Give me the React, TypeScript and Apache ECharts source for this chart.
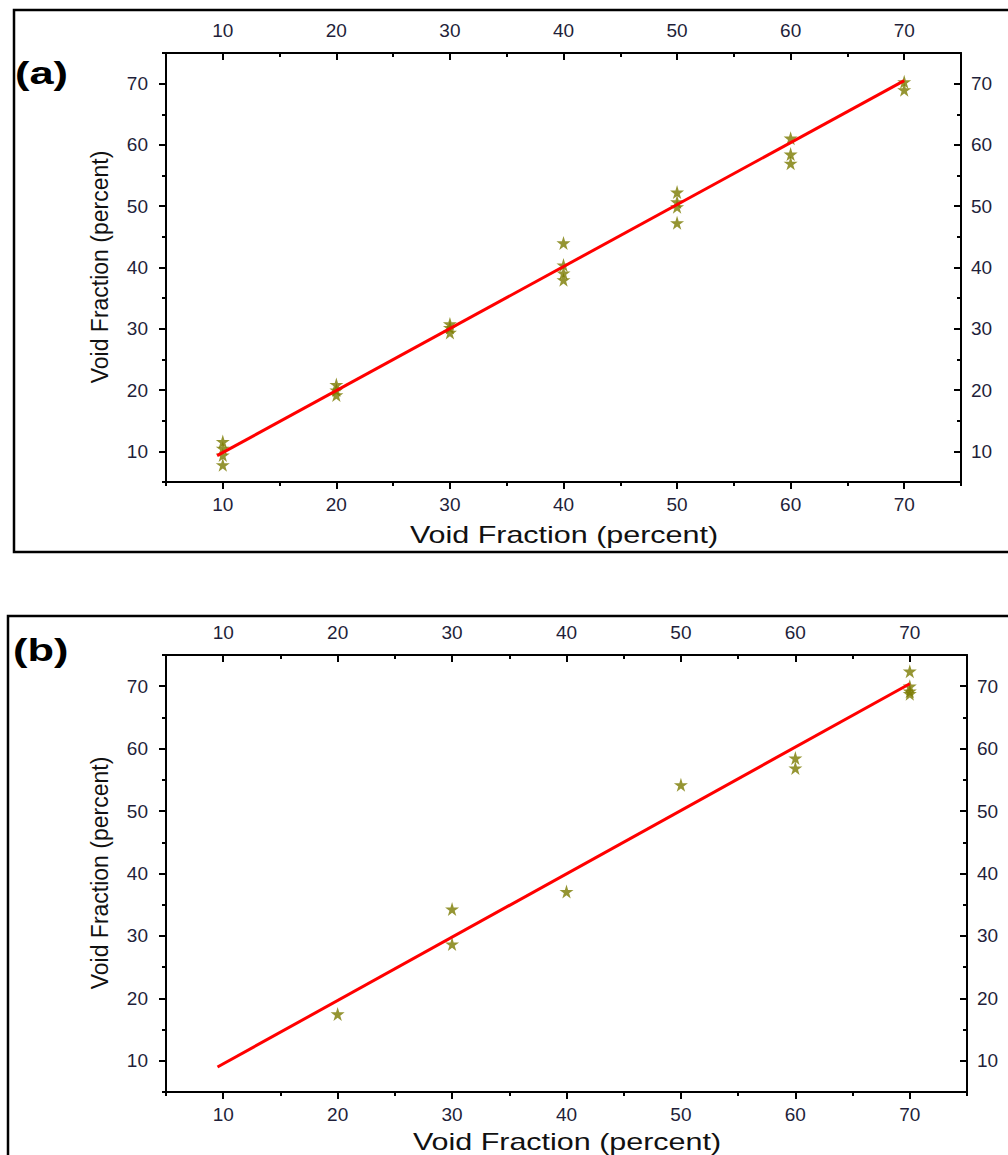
import React, { useEffect, useRef } from "react";
import * as echarts from "echarts";

// ---- data ----
const majorTicks = [10, 20, 30, 40, 50, 60, 70];
const minorTicks = [5, 15, 25, 35, 45, 55, 65, 75];

const pointsA: [number, number][] = [
  [10, 11.6], [10, 10.5], [10, 9.4], [10, 7.8],
  [20, 20.9], [20, 20.0], [20, 19.2],
  [30, 30.8], [30, 30.2], [30, 29.4],
  [40, 44.0], [40, 40.4], [40, 39.1], [40, 38.0],
  [50, 52.3], [50, 50.7], [50, 49.9], [50, 47.3],
  [60, 61.1], [60, 58.5], [60, 57.0],
  [70, 70.3], [70, 69.0],
];
const fitA: [number, number][] = [[9.5, 9.3], [70, 70.5]];

const pointsB: [number, number][] = [
  [20, 17.5],
  [30, 34.3], [30, 28.7],
  [40, 37.1],
  [50, 54.2],
  [60, 58.5], [60, 56.9],
  [70, 72.4], [70, 70.0], [70, 69.2], [70, 68.8],
];
const fitB: [number, number][] = [[9.5, 9.0], [70, 70.4]];

const axisTitle = "Void Fraction (percent)";
const panelLabels = ["(a)", "(b)"];

const STAR =
  "path://M50,0 L61,35 L98,35 L68,57 L79,91 L50,70 L21,91 L32,57 L2,35 L39,35 Z";
const TXT = "#1f1f3a";
const FONT = '"Liberation Sans", Arial, sans-serif';

function axesFor(kind: "x" | "y", gridIndex: number) {
  const base = {
    gridIndex,
    type: "value",
    min: 5,
    max: 75,
    splitLine: { show: false },
  };
  const posA = kind === "x" ? "bottom" : "left";
  const posB = kind === "x" ? "top" : "right";
  const marginOut = kind === "x" ? 13 : 18;
  const marginIn = kind === "x" ? 13 : 10;
  const lbl = (margin: number) => ({
    show: true,
    customValues: majorTicks,
    margin,
    fontSize: 19,
    fontFamily: FONT,
    color: TXT,
  });
  return [
    {
      ...base,
      position: posA,
      axisLine: { show: true, onZero: false, lineStyle: { color: "#000", width: 2 } },
      axisTick: { show: true, inside: false, customValues: majorTicks, length: 7, lineStyle: { color: "#000", width: 2 } },
      axisLabel: lbl(marginOut),
    },
    {
      ...base,
      position: posA,
      axisLine: { show: false, onZero: false },
      axisTick: { show: true, inside: false, customValues: minorTicks, length: 4, lineStyle: { color: "#000", width: 2 } },
      axisLabel: { show: false },
    },
    {
      ...base,
      position: posB,
      axisLine: { show: true, onZero: false, lineStyle: { color: "#000", width: 2 } },
      axisTick: { show: true, inside: true, customValues: majorTicks, length: 7, lineStyle: { color: "#000", width: 2 } },
      axisLabel: lbl(marginIn),
    },
    {
      ...base,
      position: posB,
      axisLine: { show: false, onZero: false },
      axisTick: { show: true, inside: true, customValues: minorTicks, length: 4, lineStyle: { color: "#000", width: 2 } },
      axisLabel: { show: false },
    },
  ];
}

export default function App() {
  const ref = useRef<HTMLDivElement>(null);
  useEffect(() => {
    if (!ref.current) return;
    const chart = echarts.init(ref.current, null, { renderer: "svg" });
    const scatter = (data: [number, number][], gi: number) => ({
      type: "scatter",
      xAxisIndex: gi * 4,
      yAxisIndex: gi * 4,
      data,
      symbol: STAR,
      symbolSize: 14,
      itemStyle: { color: "#7a7a00" },
      z: 3,
    });
    const fit = (data: [number, number][], gi: number) => ({
      type: "line",
      xAxisIndex: gi * 4,
      yAxisIndex: gi * 4,
      data,
      showSymbol: false,
      symbol: "none",
      lineStyle: { color: "#ff0000", width: 3 },
      z: 4,
    });
    const titleText = (x: number, y: number, rotate: boolean, scale: number) => ({
      type: "text",
      x,
      y,
      rotation: rotate ? Math.PI / 2 : 0,
      scaleX: rotate ? 1 : scale,
      style: {
        text: axisTitle,
        fontSize: rotate ? 23 : 24,
        fontFamily: FONT,
        fill: "#111",
        textAlign: "center",
        textVerticalAlign: "middle",
      },
    });
    const panelText = (x: number, y: number, t: string) => ({
      type: "text",
      x,
      y,
      scaleX: 1.4,
      style: {
        text: t,
        fontSize: 31,
        fontWeight: "bold",
        fontFamily: FONT,
        fill: "#000",
        textAlign: "left",
        textVerticalAlign: "middle",
      },
    });
    chart.setOption({
      animation: false,
      backgroundColor: "#fff",
      grid: [
        { left: 166, top: 53, width: 795, height: 429 },
        { left: 166, top: 655, width: 801, height: 437 },
      ],
      xAxis: [...axesFor("x", 0), ...axesFor("x", 1)],
      yAxis: [...axesFor("y", 0), ...axesFor("y", 1)],
      series: [scatter(pointsA, 0), fit(fitA, 0), scatter(pointsB, 1), fit(fitB, 1)],
      graphic: [
        {
          type: "rect",
          shape: { x: 14, y: 10, width: 1010, height: 542 },
          style: { fill: "none", stroke: "#000", lineWidth: 2.5 },
        },
        {
          type: "rect",
          shape: { x: 8, y: 616, width: 1010, height: 600 },
          style: { fill: "none", stroke: "#000", lineWidth: 2.5 },
        },
        panelText(15, 73, panelLabels[0]),
        panelText(13, 650, panelLabels[1]),
        titleText(564, 535, false, 1.27),
        titleText(100, 267, true, 1),
        titleText(567, 1142, false, 1.27),
        titleText(100, 873, true, 1),
      ],
    });
    return () => chart.dispose();
  }, []);
  return (
    <div
      ref={ref}
      style={{ position: "absolute", left: 0, top: 0, width: 1008, height: 1155, background: "#fff" }}
    />
  );
}
